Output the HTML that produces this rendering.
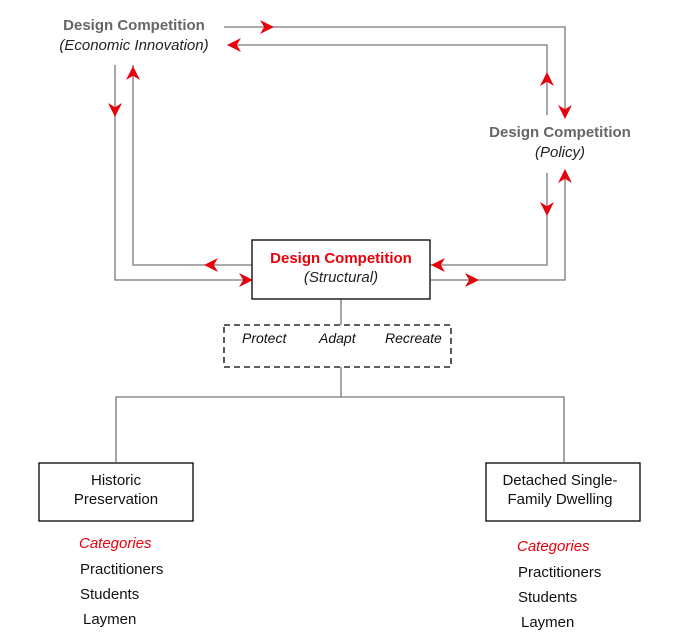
<!DOCTYPE html>
<html><head><style>
body{margin:0;background:#fff;}
svg{display:block;font-family:"Liberation Sans",sans-serif;}
</style></head><body>
<svg width="674" height="644" viewBox="0 0 674 644">
<defs>
<marker id="a" viewBox="0 0 10 10" refX="10" refY="5" markerWidth="14" markerHeight="14" markerUnits="userSpaceOnUse" orient="auto"><path d="M0,0 L10,5 L0,10 L3,5 Z" fill="#e8000b"/></marker>
</defs>
<g stroke="#777" stroke-width="1.3" fill="none">
<path d="M224,27 H565 V117"/>
<path d="M228,45 H547 V115"/>
<path d="M115,65 V280 H252"/>
<path d="M133,65 V265 H252"/>
<path d="M547,173 V265 H430"/>
<path d="M565,170 V280 H430"/>
<path d="M341,299 V325 M341,367 V397 M116,430 V397 H564 V462 M116,397 V462"/>
</g>
<g stroke="none">
<line x1="255" y1="27" x2="274" y2="27" marker-end="url(#a)"/>
<line x1="245" y1="45" x2="227" y2="45" marker-end="url(#a)"/>
<line x1="115" y1="100" x2="115" y2="117" marker-end="url(#a)"/>
<line x1="133" y1="85" x2="133" y2="66" marker-end="url(#a)"/>
<line x1="547" y1="95" x2="547" y2="72" marker-end="url(#a)"/>
<line x1="565" y1="100" x2="565" y2="119" marker-end="url(#a)"/>
<line x1="547" y1="200" x2="547" y2="216" marker-end="url(#a)"/>
<line x1="565" y1="190" x2="565" y2="169" marker-end="url(#a)"/>
<line x1="225" y1="265" x2="204" y2="265" marker-end="url(#a)"/>
<line x1="235" y1="280" x2="253" y2="280" marker-end="url(#a)"/>
<line x1="450" y1="265" x2="431" y2="265" marker-end="url(#a)"/>
<line x1="460" y1="280" x2="479" y2="280" marker-end="url(#a)"/>
</g>
<g stroke="#000" stroke-width="1.3" fill="#fff">
<rect x="252" y="240" width="178" height="59"/>
<rect x="39" y="463" width="154" height="58"/>
<rect x="486" y="463" width="154" height="58"/>
<rect x="224" y="325" width="227" height="42" stroke-dasharray="6,4"/>
</g>
<g font-size="15" text-anchor="middle">
<text x="134" y="30" font-weight="bold" fill="#666">Design Competition</text>
<text x="134" y="50" font-style="italic" fill="#222">(Economic Innovation)</text>
<text x="560" y="137" font-weight="bold" fill="#666">Design Competition</text>
<text x="560" y="157" font-style="italic" fill="#222">(Policy)</text>
<text x="341" y="263" font-weight="bold" fill="#e8000b">Design Competition</text>
<text x="341" y="282" font-style="italic" fill="#222">(Structural)</text>
<text x="116" y="485" fill="#111">Historic</text>
<text x="116" y="504" fill="#111">Preservation</text>
<text x="560" y="485" fill="#111">Detached Single-</text>
<text x="560" y="504" fill="#111">Family Dwelling</text>
</g>
<g font-size="14" font-style="italic" fill="#111">
<text x="242" y="343">Protect</text>
<text x="319" y="343">Adapt</text>
<text x="385" y="343">Recreate</text>
</g>
<g font-size="15" fill="#111">
<text x="79" y="548" font-style="italic" fill="#e8000b">Categories</text>
<text x="80" y="574">Practitioners</text>
<text x="80" y="599">Students</text>
<text x="83" y="624">Laymen</text>
<text x="517" y="551" font-style="italic" fill="#e8000b">Categories</text>
<text x="518" y="577">Practitioners</text>
<text x="518" y="602">Students</text>
<text x="521" y="627">Laymen</text>
</g>
</svg>
</body></html>
